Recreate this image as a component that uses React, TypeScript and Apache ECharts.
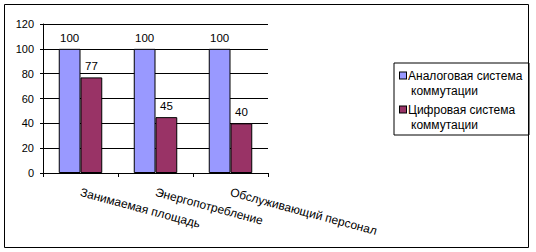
import React, { useEffect, useRef } from "react";
import * as echarts from "echarts";

const categories = ["Занимаемая площадь", "Энергопотребление", "Обслуживающий персонал"];
const analogValues = [100, 100, 100];
const digitalValues = [77, 45, 40];
const seriesNames = ["Аналоговая система коммутации", "Цифровая система коммутации"];
const legendLines: Record<string, [string, string]> = {
  "Аналоговая система коммутации": ["Аналоговая система", "коммутации"],
  "Цифровая система коммутации": ["Цифровая система", "коммутации"],
};
const colors = ["#9999FF", "#993366"];

const FONT = "Arial, 'Liberation Sans', sans-serif";

export default function App() {
  const ref = useRef<HTMLDivElement>(null);
  useEffect(() => {
    if (!ref.current) return;
    const chart = echarts.init(ref.current, null, { renderer: "svg" });
    const label = {
      show: true,
      position: "top" as const,
      distance: 5,
      color: "#000",
      fontSize: 11.5,
      fontFamily: FONT,
    };
    chart.setOption({
      animation: false,
      backgroundColor: "#fff",
      textStyle: { fontFamily: FONT },
      grid: { left: 43, right: 268, top: 24, bottom: 79, containLabel: false },
      xAxis: {
        type: "category",
        data: categories,
        boundaryGap: true,
        axisLine: { show: true, lineStyle: { color: "#000", width: 1 } },
        axisTick: { show: true, length: 4, lineStyle: { color: "#000" } },
        axisLabel: {
          interval: 0,
          rotate: -15,
          margin: 19,
          color: "#000",
          fontSize: 12,
          fontFamily: FONT,
        },
        splitLine: { show: false },
      },
      yAxis: {
        type: "value",
        min: 0,
        max: 120,
        interval: 20,
        axisLine: { show: true, lineStyle: { color: "#000", width: 1 } },
        axisTick: { show: true, length: 3, lineStyle: { color: "#000" } },
        axisLabel: { margin: 9, color: "#000", fontSize: 11, fontFamily: FONT },
        splitLine: { show: true, lineStyle: { color: "#000", width: 1 } },
      },
      legend: {
        orient: "vertical",
        left: 394,
        top: 63,
        padding: [5, 4, 3, 0],
        itemGap: 4,
        itemWidth: 0,
        itemHeight: 0,
        borderColor: "#000",
        borderWidth: 1,
        data: seriesNames,
        formatter: (name: string) => {
          const idx = seriesNames.indexOf(name);
          const [l1, l2] = legendLines[name];
          return `{sq${idx}|}{t|${l1}}\n{ind|}{t|${l2}}`;
        },
        textStyle: {
          color: "#000",
          fontSize: 12,
          fontFamily: FONT,
          lineHeight: 15,
          rich: {
            sq0: {
              width: 6,
              height: 6,
              backgroundColor: colors[0],
              borderColor: "#000",
              borderWidth: 1,
              verticalAlign: "middle",
            },
            sq1: {
              width: 6,
              height: 6,
              backgroundColor: colors[1],
              borderColor: "#000",
              borderWidth: 1,
              verticalAlign: "middle",
            },
            ind: { width: 9, height: 6 },
            t: {
              fontSize: 12,
              fontFamily: FONT,
              lineHeight: 15,
              color: "#000",
              padding: [0, 0, 0, 2],
              width: 114,
            },
          },
        },
      },
      graphic: [
        {
          type: "rect",
          shape: { x: 4.5, y: 4.5, width: 524, height: 243 },
          style: { fill: "none", stroke: "#000", lineWidth: 1 },
          silent: true,
          z: 100,
        },
      ],
      series: [
        {
          name: seriesNames[0],
          type: "bar",
          data: analogValues,
          barGap: "0%",
          barCategoryGap: "42%",
          itemStyle: { color: colors[0], borderColor: "#000", borderWidth: 1 },
          label,
        },
        {
          name: seriesNames[1],
          type: "bar",
          data: digitalValues,
          barGap: "0%",
          barCategoryGap: "42%",
          itemStyle: { color: colors[1], borderColor: "#000", borderWidth: 1 },
          label,
        },
      ],
    });
    return () => chart.dispose();
  }, []);
  return (
    <div
      ref={ref}
      style={{ position: "absolute", left: 0, top: 0, width: 536, height: 252 }}
    />
  );
}
